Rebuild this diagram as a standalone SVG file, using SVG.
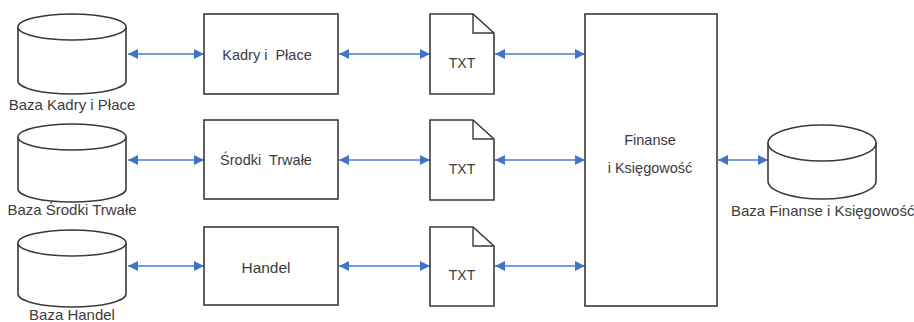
<svg xmlns="http://www.w3.org/2000/svg" width="914" height="322" viewBox="0 0 914 322">
<style>
.shape{fill:#fff;stroke:#3a3a3a;stroke-width:1.6}
.line{fill:none;stroke:#3a3a3a;stroke-width:1.4}
.t{font-family:"Liberation Sans",Arial,sans-serif;fill:#3c3c3c;text-anchor:middle;white-space:pre}
.lbl{font-size:15px}
.box{font-size:14.5px}
.conn{stroke:#4a7cc8;stroke-width:1.6;fill:none;marker-start:url(#ah);marker-end:url(#ah)}
</style>
<defs>
<marker id="ah" viewBox="0 0 10 10" refX="10" refY="5" markerWidth="12" markerHeight="10" markerUnits="userSpaceOnUse" orient="auto-start-reverse">
<path d="M0,0 L10,5 L0,10 Z" fill="#3f74c6"/>
</marker>
</defs>
<g id="connectors">
<line class="conn" x1="128" y1="54" x2="204" y2="54"/>
<line class="conn" x1="339" y1="54" x2="430" y2="54"/>
<line class="conn" x1="495" y1="54" x2="585" y2="54"/>
<line class="conn" x1="128" y1="160" x2="204" y2="160"/>
<line class="conn" x1="339" y1="160" x2="430" y2="160"/>
<line class="conn" x1="495" y1="160" x2="585" y2="160"/>
<line class="conn" x1="128" y1="266" x2="204" y2="266"/>
<line class="conn" x1="339" y1="266" x2="430" y2="266"/>
<line class="conn" x1="495" y1="266" x2="585" y2="266"/>
<line class="conn" x1="718" y1="160" x2="768" y2="160"/>
</g>
<g id="db-kadry">
<path class="shape" d="M18,27 L18,81 A54,13 0 0 0 126,81 L126,27"/>
<ellipse class="shape" cx="72" cy="27" rx="54" ry="13"/>
<text class="t lbl" x="72" y="110">Baza Kadry i Płace</text>
</g>
<g id="db-srodki">
<path class="shape" d="M18,137 L18,189 A54,13 0 0 0 126,189 L126,137"/>
<ellipse class="shape" cx="72" cy="137" rx="54" ry="13"/>
<text class="t lbl" x="72" y="215">Baza Środki Trwałe</text>
</g>
<g id="db-handel">
<path class="shape" d="M18,243 L18,294 A54,13 0 0 0 126,294 L126,243"/>
<ellipse class="shape" cx="72" cy="243" rx="54" ry="13"/>
<text class="t lbl" x="72" y="320">Baza Handel</text>
</g>
<g id="box-kadry">
<rect class="shape" x="204" y="14" width="134" height="80"/>
<text class="t box" x="267" y="60" xml:space="preserve">Kadry i  Płace</text>
</g>
<g id="box-srodki">
<rect class="shape" x="204" y="120" width="134" height="79"/>
<text class="t box" x="266" y="165" xml:space="preserve">Środki  Trwałe</text>
</g>
<g id="box-handel">
<rect class="shape" x="204" y="227" width="134" height="78"/>
<text class="t" style="font-size:15.5px" x="266" y="273">Handel</text>
</g>
<g id="txt-1">
<path class="shape" d="M430,14 L473,14 L494,33 L494,94 L430,94 Z"/>
<path class="line" d="M473,14 L473,33 L494,33"/>
<text class="t" style="font-size:14px" x="462" y="68">TXT</text>
</g>
<g id="txt-2">
<path class="shape" d="M430,120 L473,120 L494,139 L494,200 L430,200 Z"/>
<path class="line" d="M473,120 L473,139 L494,139"/>
<text class="t" style="font-size:14px" x="462" y="174">TXT</text>
</g>
<g id="txt-3">
<path class="shape" d="M430,227 L473,227 L494,246 L494,306 L430,306 Z"/>
<path class="line" d="M473,227 L473,246 L494,246"/>
<text class="t" style="font-size:14px" x="462" y="280">TXT</text>
</g>
<g id="box-finanse">
<rect class="shape" x="585" y="14" width="132" height="292"/>
<text class="t box" x="650" y="145">Finanse</text>
<text class="t box" x="650" y="173">i Księgowość</text>
</g>
<g id="db-finanse">
<path class="shape" d="M768,143 L768,181 A54,18 0 0 0 876,181 L876,143"/>
<ellipse class="shape" cx="822" cy="143" rx="54" ry="18"/>
<text class="t lbl" x="731" y="216" style="text-anchor:start">Baza Finanse i Księgowość</text>
</g>
</svg>
